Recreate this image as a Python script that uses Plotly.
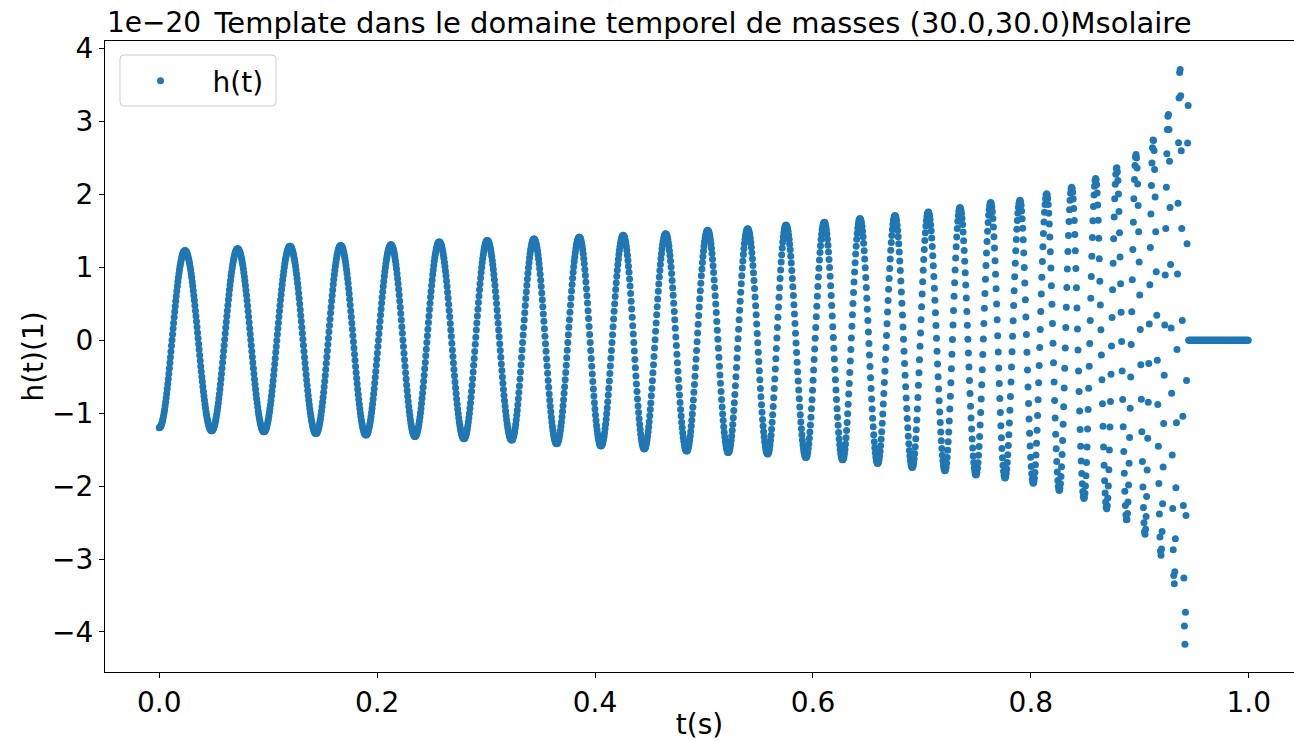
import numpy as np
import plotly.graph_objects as go

# Sampling of the template
FS = 2048          # Hz
N_SAMPLES = 2048   # one second of data
SCALE_EXP = -20    # values below are in units of 1e-20

# Successive extrema of h(t) (trough, peak, trough, ...), times in s
ext_t = [0.0, 0.02359, 0.04810, 0.07196, 0.09610, 0.11996, 0.14383, 0.16650,
         0.18972, 0.21267, 0.23470, 0.25700, 0.27967, 0.30106, 0.32345, 0.34392,
         0.36476, 0.38550, 0.40541, 0.42588, 0.44516, 0.46480, 0.48407, 0.50335,
         0.52226, 0.54006, 0.55842, 0.57522, 0.59357, 0.61037, 0.62726, 0.64314,
         0.65938, 0.67526, 0.69114, 0.70583, 0.72116, 0.73492, 0.74961, 0.76310,
         0.77623, 0.78999, 0.80220, 0.81450, 0.82607, 0.83745, 0.84874, 0.85948,
         0.86957, 0.87875, 0.88793, 0.89646, 0.90473, 0.91234, 0.91941, 0.92611,
         0.93162, 0.93685, 0.94144, 0.94434]
ext_h = [-1.20, 1.23, -1.24, 1.255, -1.255, 1.29, -1.28, 1.30,
         -1.30, 1.31, -1.32, 1.35, -1.35, 1.37, -1.37, 1.39,
         -1.42, 1.415, -1.45, 1.44, -1.49, 1.46, -1.52, 1.51,
         -1.54, 1.53, -1.56, 1.58, -1.61, 1.62, -1.64, 1.67,
         -1.69, 1.71, -1.745, 1.76, -1.79, 1.82, -1.85, 1.89,
         -1.89, 1.92, -1.96, 2.01, -2.06, 2.10, -2.17, 2.22,
         -2.31, 2.37, -2.47, 2.55, -2.66, 2.76, -2.95, 3.11,
         -3.34, 3.74, -4.17, 3.22]

x_ticks = [0.0, 0.2, 0.4, 0.6, 0.8, 1.0]
y_ticks = [-4, -3, -2, -1, 0, 1, 2, 3, 4]

# Sampled waveform: half-cosine arcs between consecutive extrema, zero after the end
t = np.arange(N_SAMPLES) / FS
h = np.zeros(N_SAMPLES)
for i in range(len(ext_t) - 1):
    a, b = ext_t[i], ext_t[i + 1]
    m = (t >= a) & (t <= b + 1e-9)
    s = (t[m] - a) / (b - a)
    h[m] = ext_h[i] + (ext_h[i + 1] - ext_h[i]) * (1 - np.cos(np.pi * s)) / 2

BLUE = "#1f77b4"
FONT = "DejaVu Sans"
FS_TXT = 28
FS_TITLE = 29

fig = go.Figure()
fig.add_trace(go.Scatter(
    x=t, y=h, mode="markers", name="h(t)",
    marker=dict(size=7, color=BLUE, line=dict(width=0)),
))

W, H = 1294, 741
L, R, T, B = 105, 0, 41, 69
PW = W - L - R
PH = H - T - B


def px_x(p):
    return (p - L) / PW


def px_y(p):
    return 1 - (p - T) / PH


# rounded legend frame
x0, x1, y0, y1 = px_x(120), px_x(276), px_y(106), px_y(55)
rx, ry = 4 / PW, 4 / PH
frame = (f"M {x0+rx},{y1} L {x1-rx},{y1} Q {x1},{y1} {x1},{y1-ry} L {x1},{y0+ry} "
         f"Q {x1},{y0} {x1-rx},{y0} L {x0+rx},{y0} Q {x0},{y0} {x0},{y0+ry} "
         f"L {x0},{y1-ry} Q {x0},{y1} {x0+rx},{y1} Z")

fig.update_layout(
    width=W, height=H,
    margin=dict(l=L, r=R, t=T, b=B),
    paper_bgcolor="white", plot_bgcolor="white",
    font=dict(family=FONT, size=FS_TXT, color="black"),
    showlegend=True,
    legend=dict(
        x=px_x(108.5), y=px_y(56), xanchor="left", yanchor="top",
        bgcolor="rgba(0,0,0,0)", bordercolor="rgba(0,0,0,0)", borderwidth=0,
        itemwidth=94, font=dict(size=FS_TXT),
    ),
    xaxis=dict(
        range=[-0.0498, 1.0415], tickvals=x_ticks, ticktext=[f"{v:.1f}" for v in x_ticks],
        showgrid=False, zeroline=False, showline=True, linecolor="black", linewidth=1,
        mirror=True, ticks="outside", ticklen=5, tickwidth=1, tickcolor="black",
        title=dict(text="t(s)", font=dict(size=FS_TXT), standoff=3),
    ),
    yaxis=dict(
        range=[-4.55, 4.105], tickvals=y_ticks,
        showgrid=False, zeroline=False, showline=True, linecolor="black", linewidth=1,
        ticks="outside", ticklen=5, tickwidth=1, tickcolor="black",
        title=dict(text="h(t)(1)", font=dict(size=FS_TXT), standoff=0),
    ),
    title=dict(
        text="Template dans le domaine temporel de masses (30.0,30.0)Msolaire",
        x=px_x(703), xref="paper", xanchor="center",
        y=1 - 33 / H, yref="container", yanchor="bottom",
        font=dict(size=FS_TITLE),
    ),
    annotations=[dict(
        text=f"1e\u2212{abs(SCALE_EXP)}", xref="paper", yref="paper",
        x=0, y=1, xanchor="left", yanchor="bottom", yshift=0, xshift=0,
        showarrow=False, font=dict(size=FS_TXT),
    )],
    shapes=[dict(
        type="path", xref="paper", yref="paper", path=frame,
        line=dict(color="#cccccc", width=1), fillcolor="rgba(255,255,255,0.8)", layer="below",
    )],
)

fig.write_html("out.html")
